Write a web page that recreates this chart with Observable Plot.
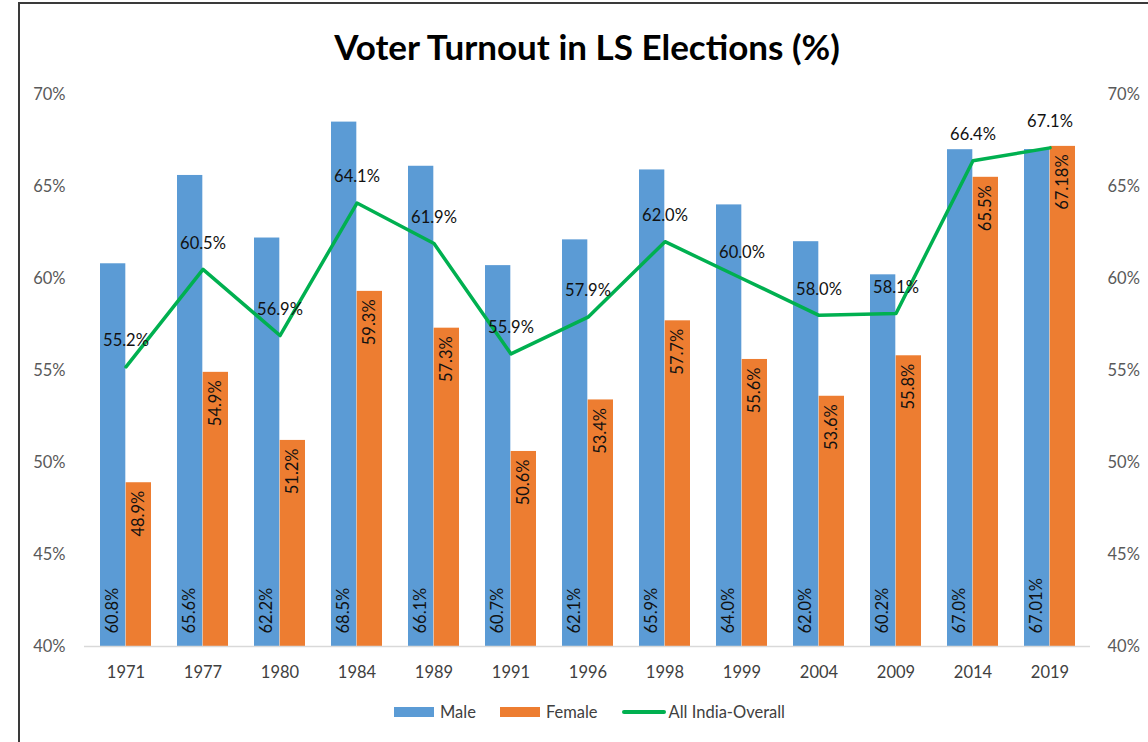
<!DOCTYPE html>
<html><head><meta charset="utf-8">
<script src="https://cdn.jsdelivr.net/npm/d3@7"></script>
<script src="https://cdn.jsdelivr.net/npm/@observablehq/plot@0.6"></script>
<style>
body{margin:0;background:#fff;font-family:Lato,"Noto Sans",sans-serif;overflow:hidden;}
#frame{position:absolute;left:18px;top:2px;width:1200px;height:800px;border:2px solid #3a3a3a;box-sizing:border-box;}
#title{position:absolute;left:0;top:22px;width:1174px;text-align:center;font-weight:bold;font-size:35px;color:#000;line-height:48px;}
#chart{position:absolute;left:0;top:76px;}
#legend{position:absolute;left:0;top:700px;width:1179px;display:flex;justify-content:center;align-items:center;font-size:16.5px;color:#404040;line-height:24px;}
#legend .sw{display:inline-block;width:40px;height:10px;margin-right:6px;}
#legend .ln{display:inline-block;width:44px;height:4px;border-radius:2px;margin-right:3px;}
#legend .item{display:flex;align-items:center;margin:0 12px;}
</style>
</head><body>
<div id="frame"></div>
<div id="title">Voter Turnout in LS Elections (%)</div>
<div id="chart"></div>
<div id="legend">
  <div class="item"><span class="sw" style="background:#5B9BD5"></span><span>Male</span></div>
  <div class="item"><span class="sw" style="background:#ED7D31"></span><span>Female</span></div>
  <div class="item"><span class="ln" style="background:#00B050"></span><span>All India-Overall</span></div>
</div>
<script>
const years = ["1971","1977","1980","1984","1989","1991","1996","1998","1999","2004","2009","2014","2019"];
const male = [60.8, 65.6, 62.2, 68.5, 66.1, 60.7, 62.1, 65.9, 64.0, 62.0, 60.2, 67.0, 67.01];
const female = [48.9, 54.9, 51.2, 59.3, 57.3, 50.6, 53.4, 57.7, 55.6, 53.6, 55.8, 65.5, 67.18];
const overall = [55.2, 60.5, 56.9, 64.1, 61.9, 55.9, 57.9, 62.0, 60.0, 58.0, 58.1, 66.4, 67.1];
const yTicks = [40, 45, 50, 55, 60, 65, 70];

const rows = years.map((y, i) => ({year: y, male: male[i], female: female[i], overall: overall[i]}));
const fmt = v => (Math.abs(Math.round(v * 10) - v * 10) < 1e-6 ? v.toFixed(1) : v.toFixed(2)) + "%";

const W = 1148, mL = 84, mR = 58;
const step = (W - mL - mR) / years.length;
const barW = 25.7;
const outer = 13;
const inner = step - outer - barW;
const off = (outer + barW / 2) - step / 2;

const chart = Plot.plot({
  width: W, height: 612,
  marginLeft: mL, marginRight: mR, marginTop: 18, marginBottom: 42,
  x: {type: "band", domain: years, padding: 0, label: null},
  y: {domain: [40, 70], label: null},
  style: {fontFamily: "Lato, 'Noto Sans', sans-serif", fontSize: "16.5px", color: "#595959", background: "transparent"},
  marks: [
    Plot.barY(rows, {x: "year", y1: d => 40, y2: "male", fill: "#5B9BD5", insetLeft: outer, insetRight: inner}),
    Plot.barY(rows, {x: "year", y1: d => 40, y2: "female", fill: "#ED7D31", insetLeft: inner, insetRight: outer}),
    Plot.ruleY([40], {stroke: "#D9D9D9", strokeWidth: 1.5}),
    Plot.line(rows, {x: "year", y: "overall", stroke: "#00B050", strokeWidth: 3.5, strokeLinejoin: "round"}),
    Plot.axisY({anchor: "left", ticks: yTicks, tickFormat: d => d + "%", tickSize: 0, tickPadding: 19}),
    Plot.axisY({anchor: "right", ticks: yTicks, tickFormat: d => d + "%", tickSize: 0, tickPadding: 17}),
    Plot.axisX({tickSize: 0, tickPadding: 20, fill: "#404040"}),
    Plot.text(rows, {x: "year", y: d => 40, text: d => fmt(d.male), rotate: -90, textAnchor: "start", dx: off, dy: -13, fill: "#111"}),
    Plot.text(rows, {x: "year", y: "female", text: d => fmt(d.female), rotate: -90, textAnchor: "end", dx: -off, dy: 8, fill: "#111"}),
    Plot.text(rows, {x: "year", y: "overall", text: d => fmt(d.overall), dy: -26, fill: "#111"})
  ]
});
document.getElementById("chart").appendChild(chart);
</script>
</body></html>
